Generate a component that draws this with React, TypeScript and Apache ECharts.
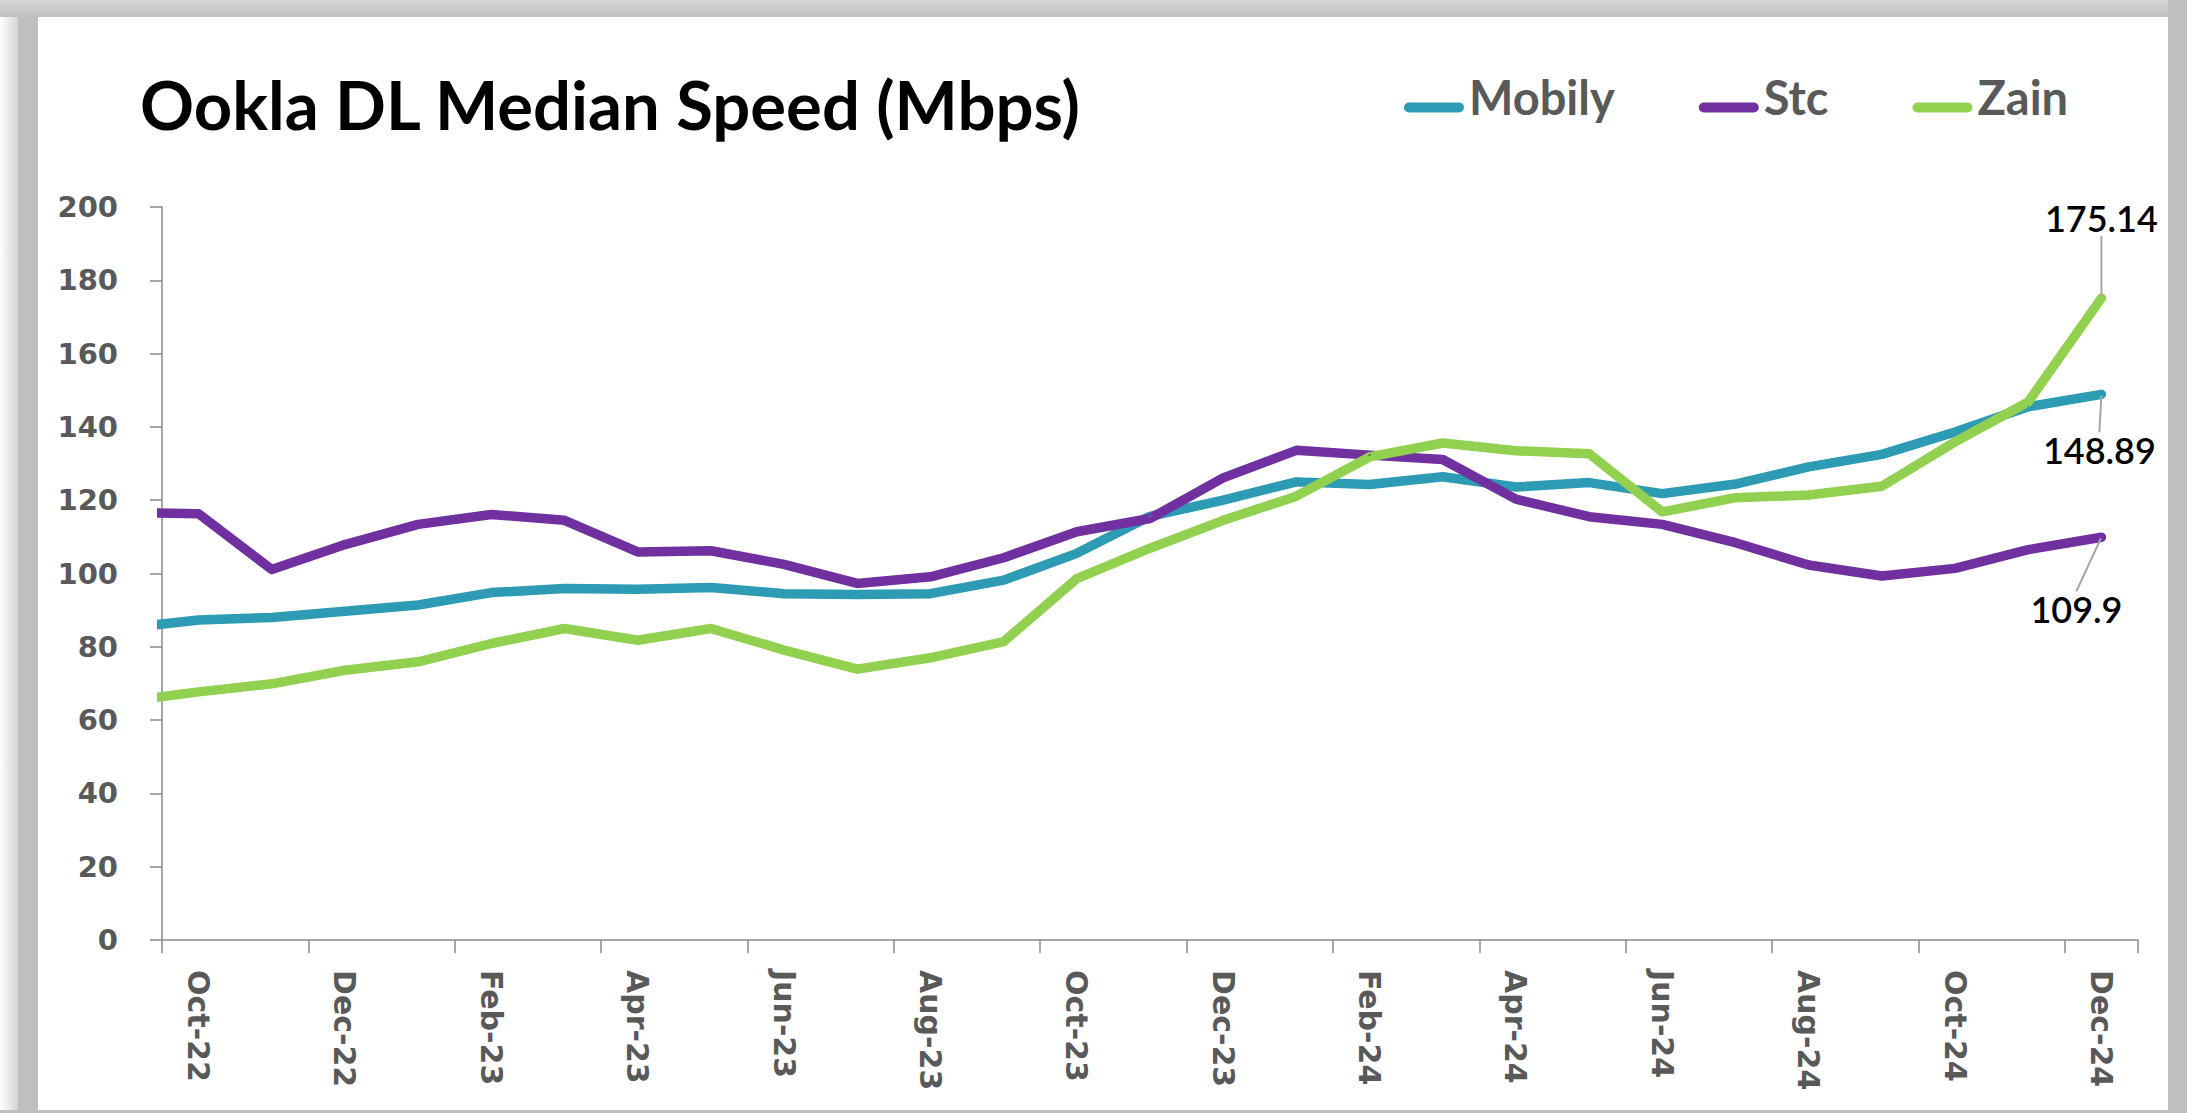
import React, { useEffect, useRef } from 'react';
import * as echarts from 'echarts';

// Monthly data. The first month (Sep-22) lies before the axis start and is clipped at the axis, as in the source.
const months = [
  'Sep-22', 'Oct-22', 'Nov-22', 'Dec-22', 'Jan-23', 'Feb-23', 'Mar-23', 'Apr-23', 'May-23', 'Jun-23',
  'Jul-23', 'Aug-23', 'Sep-23', 'Oct-23', 'Nov-23', 'Dec-23', 'Jan-24', 'Feb-24', 'Mar-24', 'Apr-24',
  'May-24', 'Jun-24', 'Jul-24', 'Aug-24', 'Sep-24', 'Oct-24', 'Nov-24', 'Dec-24',
];
const axisMonths = months.slice(1);

const mobily = [
  85.1, 87.3, 88.0, 89.7, 91.4, 94.8, 95.9, 95.7, 96.2, 94.5,
  94.3, 94.5, 98.2, 105.5, 115.6, 120.0, 125.0, 124.3, 126.4, 123.6,
  124.8, 121.8, 124.4, 129.1, 132.5, 138.6, 145.5, 148.89,
];
const stc = [
  116.7, 116.3, 101.1, 107.9, 113.4, 116.1, 114.5, 105.9, 106.2, 102.5,
  97.3, 99.1, 104.3, 111.4, 115.0, 126.1, 133.6, 132.3, 131.1, 120.3,
  115.5, 113.4, 108.4, 102.3, 99.3, 101.4, 106.5, 109.9,
];
const zain = [
  65.1, 67.7, 69.9, 73.6, 75.9, 80.9, 85.0, 81.8, 85.0, 79.1,
  73.9, 77.0, 81.4, 98.6, 106.9, 114.5, 121.1, 131.8, 135.6, 133.5,
  132.7, 116.8, 120.7, 121.4, 123.8, 135.9, 146.8, 175.14,
];

const yMin = 0;
const yMax = 200;
const yStep = 20;

const titleText = 'Ookla DL Median Speed (Mbps)';
const seriesNames = ['Mobily', 'Stc', 'Zain'];

const AXIS_GRAY = '#8a8a8a';
const LABEL_GRAY = '#595959';
const FRAME_GRAY = '#bfbfbf';

function buildSeries(name: string, values: number[], color: string, offset: [number, number]) {
  const last = values.length - 1;
  return {
    name,
    type: 'line',
    xAxisIndex: 0,
    yAxisIndex: 0,
    clip: true,
    symbol: 'circle',
    symbolSize: 2,
    showSymbol: true,
    itemStyle: { color },
    lineStyle: { color, width: 9.5, cap: 'round', join: 'round' },
    emphasis: { disabled: true },
    label: {
      show: false,
      position: 'inside',
      formatter: (p: any) => String(p.value[1]),
      fontFamily: 'Lato',
      fontWeight: 600,
      fontSize: 36,
      color: '#000000',
    },
    labelLine: { show: false, lineStyle: { color: '#a6a6a6', width: 2 } },
    labelLayout: { dx: offset[0], dy: offset[1] },
    data: values.map((v, i) =>
      i === last
        ? { value: [i - 0.5, v], label: { show: true }, labelLine: { show: true } }
        : [i - 0.5, v]
    ),
  };
}

export default function App() {
  const ref = useRef<HTMLDivElement>(null);

  useEffect(() => {
    document.body.style.margin = '0';
    document.body.style.overflow = 'hidden';
    const chart = echarts.init(ref.current as HTMLDivElement, null, { renderer: 'svg' });

    const option: any = {
      animation: false,
      backgroundColor: '#ffffff',
      title: {
        text: titleText,
        left: 140,
        top: 70,
        padding: 0,
        textStyle: { fontFamily: 'Lato', fontSize: 67, fontWeight: 'bold', color: '#000000' },
      },
      legend: {
        left: 1404,
        top: 73,
        padding: 0,
        itemWidth: 60,
        itemHeight: 10,
        itemGap: 84,
        selectedMode: false,
        icon: 'path://M5 0H55A5 5 0 0 1 55 10H5A5 5 0 0 1 5 0Z',
        // a short blank second line lifts the name above the line icon, as in the source legend
        formatter: '{t|{name}}\n{s| }',
        textStyle: {
          fontFamily: 'Lato',
          fontSize: 47,
          fontWeight: 'bold',
          color: LABEL_GRAY,
          rich: {
            t: { fontFamily: 'Lato', fontSize: 47, fontWeight: 'bold', color: LABEL_GRAY, lineHeight: 50 },
            s: { fontSize: 2, lineHeight: 22 },
          },
        },
        data: seriesNames,
      },
      grid: { left: 162, right: 49, top: 207, bottom: 173, containLabel: false, outerBoundsMode: 'none' },
      xAxis: [
        { type: 'value', min: 0, max: axisMonths.length, show: false },
        {
          type: 'category',
          data: axisMonths,
          boundaryGap: true,
          position: 'bottom',
          axisLine: { show: true, lineStyle: { color: AXIS_GRAY, width: 1.5 } },
          axisTick: { show: true, interval: 1, length: 13, lineStyle: { color: AXIS_GRAY, width: 1.5 } },
          axisLabel: {
            interval: 1,
            rotate: -90,
            margin: 30,
            fontFamily: 'DejaVu Sans',
            fontWeight: 'bold',
            fontSize: 30,
            color: LABEL_GRAY,
          },
          splitLine: { show: false },
        },
      ],
      yAxis: {
        type: 'value',
        min: yMin,
        max: yMax,
        interval: yStep,
        axisLine: { show: true, lineStyle: { color: AXIS_GRAY, width: 1.5 } },
        axisTick: { show: true, length: 12, lineStyle: { color: AXIS_GRAY, width: 1.5 } },
        splitLine: { show: false },
        axisLabel: { margin: 44, fontFamily: 'DejaVu Sans', fontWeight: 'bold', fontSize: 29, color: LABEL_GRAY },
      },
      graphic: [
        {
          type: 'rect',
          silent: true,
          z: -10,
          shape: { x: 0, y: 0, width: 18, height: 1113 },
          style: {
            fill: new echarts.graphic.LinearGradient(0, 0, 1, 0, [
              { offset: 0, color: '#ffffff' },
              { offset: 1, color: '#d4d4d4' },
            ]),
          },
        },
        { type: 'rect', silent: true, z: -10, shape: { x: 18, y: 0, width: 20, height: 1113 }, style: { fill: FRAME_GRAY } },
        {
          type: 'rect',
          silent: true,
          z: -10,
          shape: { x: 0, y: 0, width: 2187, height: 17 },
          style: {
            fill: new echarts.graphic.LinearGradient(0, 0, 0, 1, [
              { offset: 0, color: '#d6d6d6' },
              { offset: 1, color: FRAME_GRAY },
            ]),
          },
        },
        { type: 'rect', silent: true, z: -10, shape: { x: 2168, y: 0, width: 19, height: 1113 }, style: { fill: FRAME_GRAY } },
        { type: 'rect', silent: true, z: -10, shape: { x: 0, y: 1110, width: 2187, height: 3 }, style: { fill: FRAME_GRAY } },
      ],
      series: [
        buildSeries(seriesNames[0], mobily, '#2c9bb3', [-2, 56]),
        buildSeries(seriesNames[1], stc, '#7030a0', [-25, 72]),
        buildSeries(seriesNames[2], zain, '#92d050', [0, -80]),
      ],
    };

    chart.setOption(option);
    return () => chart.dispose();
  }, []);

  return <div ref={ref} style={{ width: 2187, height: 1113, background: '#ffffff' }} />;
}
